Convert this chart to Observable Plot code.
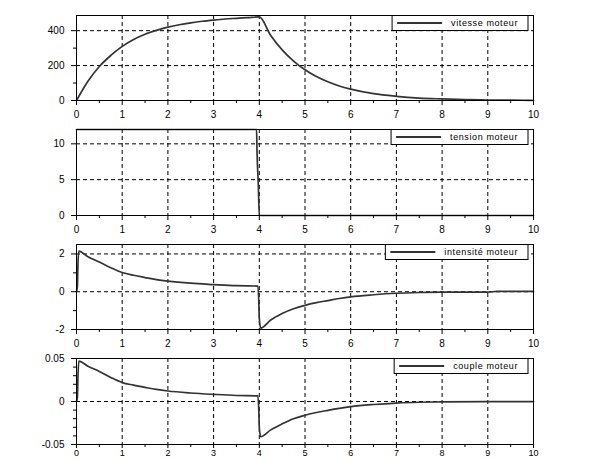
<!DOCTYPE html>
<html><head><meta charset="utf-8">
<script src="https://cdn.jsdelivr.net/npm/d3@7"></script>
<script src="https://cdn.jsdelivr.net/npm/@observablehq/plot@0.6"></script>
<style>
body{margin:0;background:#fff}
#c{position:relative;width:610px;height:460px;overflow:hidden;background:#fff}
#c > svg{position:absolute;left:0}
</style>
</head><body><div id="c"></div>
<script>
// ---- data ----
const xTicks = [0,1,2,3,4,5,6,7,8,9,10];
const xMinorTicks = [0.5,1.5,2.5,3.5,4.5,5.5,6.5,7.5,8.5,9.5];

const speedLabel = "vitesse moteur";
const speedT = [0,0.25,0.5,0.75,1,1.25,1.5,1.75,2,2.25,2.5,2.75,3,3.25,3.5,3.75,4,4.25,4.5,4.75,5,5.25,5.5,5.75,6,6.5,7,7.5,8,8.5,9,9.5,10];
const speedV = [0,110,195,258,310,350,380,402,420,434,445,454,461,467,471,475,479,372,290,226,176,137,107,83,65,39,24,14,9,5,3,2,1];
const speedTicks = [0,200,400];
const speedMinor = [100,300];
const speedDomain = [0,487];

const tensionLabel = "tension moteur";
const tensionT = [0,3.94,3.95,3.98,4.0,10];
const tensionV = [12,12,9,4,0,0];
const tensionTicks = [0,5,10];
const tensionMinor = [];
const tensionDomain = [0,12];

const currentLabel = "intensité moteur";
const currentT = [0,0.02,0.03,0.05,0.25,0.5,0.75,1,1.25,1.5,1.75,2,2.5,3,3.5,3.97,3.99,4.0,4.03,4.25,4.5,4.75,5,5.25,5.5,5.75,6,6.5,7,7.5,8,9,9.2,10];
const currentV = [0,0.3,1.3,2.15,1.85,1.57,1.27,1.02,0.87,0.75,0.64,0.56,0.45,0.38,0.32,0.30,-0.6,-1.4,-1.93,-1.5,-1.15,-0.9,-0.72,-0.58,-0.47,-0.36,-0.27,-0.16,-0.08,-0.04,-0.02,-0.02,0.02,0.02];
const currentTicks = [-2,0,2];
const currentMinor = [-1,1];
const currentDomain = [-2,2.5];

const torqueLabel = "couple moteur";
const torqueT = [0,0.02,0.03,0.05,0.25,0.5,0.75,1,1.25,1.5,1.75,2,2.5,3,3.5,3.97,3.99,4.0,4.03,4.25,4.5,4.75,5,5.25,5.5,5.75,6,6.5,7,7.5,8,9,10];
const torqueV = [0,0.005,0.025,0.047,0.041,0.035,0.028,0.022,0.019,0.0164,0.014,0.0122,0.0099,0.0083,0.007,0.0065,-0.012,-0.03,-0.041,-0.033,-0.026,-0.02,-0.016,-0.0128,-0.0103,-0.008,-0.006,-0.0035,-0.0018,-0.0009,-0.0005,-0.0002,-0.0001];
const torqueTicks = [-0.05,0,0.05];
const torqueMinor = [-0.04,-0.03,-0.02,-0.01,0.01,0.02,0.03,0.04];
const torqueDomain = [-0.05,0.05];

// ---- drawing ----
const container = document.getElementById("c");
const W = 610, ML = 76, MR = 77;
const dash = "4,3";

function panel({t, v, domain, ticks, minor, grid, label, top, mt, mb, h, pad = 5, tsize = 5, xfs = 10}) {
  const data = t.map((x, i) => ({x, y: v[i]}));
  const plot = Plot.plot({
    width: W, height: h,
    marginLeft: ML, marginRight: MR, marginTop: mt, marginBottom: mb,
    style: {fontFamily: "'Liberation Sans', Arial, sans-serif", fontSize: "10px", color: "#000", background: "transparent", overflow: "visible"},
    x: {domain: [0, 10], label: null},
    y: {domain, label: null},
    marks: [
      Plot.ruleX(xTicks.slice(1, -1), {stroke: "#000", strokeDasharray: dash, strokeWidth: 1}),
      Plot.ruleY(grid, {stroke: "#000", strokeDasharray: dash, strokeWidth: 1}),
      Plot.line(data, {x: "x", y: "y", stroke: "#333", strokeWidth: 1.7, curve: "monotone-x"}),
      Plot.frame({stroke: "#000", strokeWidth: 1}),
      Plot.axisX(xTicks, {tickSize: tsize, tickPadding: pad, tickFormat: d => String(d), stroke: "#000", fontSize: xfs}),
      Plot.axisX(xMinorTicks, {tickSize: 3, tickFormat: () => "", stroke: "#000"}),
      Plot.axisY(ticks, {tickSize: 5, tickPadding: 7, tickFormat: d => String(d), stroke: "#000"}),
      Plot.axisY(minor, {tickSize: 3, tickFormat: () => "", stroke: "#000"})
    ]
  });
  plot.style.top = top + "px";
  container.appendChild(plot);

  // legend box (top-right inside the frame)
  const svg = d3.select(plot);
  const g = svg.append("g");
  const right = W - MR - 5;
  const y0 = mt + 0.5;
  const txt = g.append("text")
    .attr("x", right - 10).attr("y", y0 + 10.5)
    .attr("text-anchor", "end")
    .attr("font-family", "'Liberation Sans', Arial, sans-serif")
    .attr("font-size", 9).attr("letter-spacing", "0.6px")
    .attr("fill", "#000")
    .text(label);
  const tw = txt.node().getComputedTextLength();
  const tx = right - 10 - tw;
  const lx1 = tx - 9, lx0 = lx1 - 45;
  const bx = lx0 - 5;
  g.insert("rect", "text")
    .attr("x", bx).attr("y", y0).attr("width", right - bx).attr("height", 15)
    .attr("fill", "#fff").attr("stroke", "#000").attr("stroke-width", 1);
  g.insert("line", "text")
    .attr("x1", lx0).attr("x2", lx1).attr("y1", y0 + 7.5).attr("y2", y0 + 7.5)
    .attr("stroke", "#333").attr("stroke-width", 2);
}

panel({t: speedT, v: speedV, domain: speedDomain, ticks: speedTicks, minor: speedMinor, grid: [200, 400], label: speedLabel, top: 0, mt: 15, mb: 15, h: 115});
panel({t: tensionT, v: tensionV, domain: tensionDomain, ticks: tensionTicks, minor: tensionMinor, grid: [5, 10], label: tensionLabel, top: 115, mt: 14, mb: 15, h: 115});
panel({t: currentT, v: currentV, domain: currentDomain, ticks: currentTicks, minor: currentMinor, grid: [0, 2], label: currentLabel, top: 230, mt: 14, mb: 16, h: 115});
panel({t: torqueT, v: torqueV, domain: torqueDomain, ticks: torqueTicks, minor: torqueMinor, grid: [0], label: torqueLabel, top: 345, mt: 13, mb: 16, h: 115, pad: 1, tsize: 4, xfs: 9});
</script>
</body></html>
